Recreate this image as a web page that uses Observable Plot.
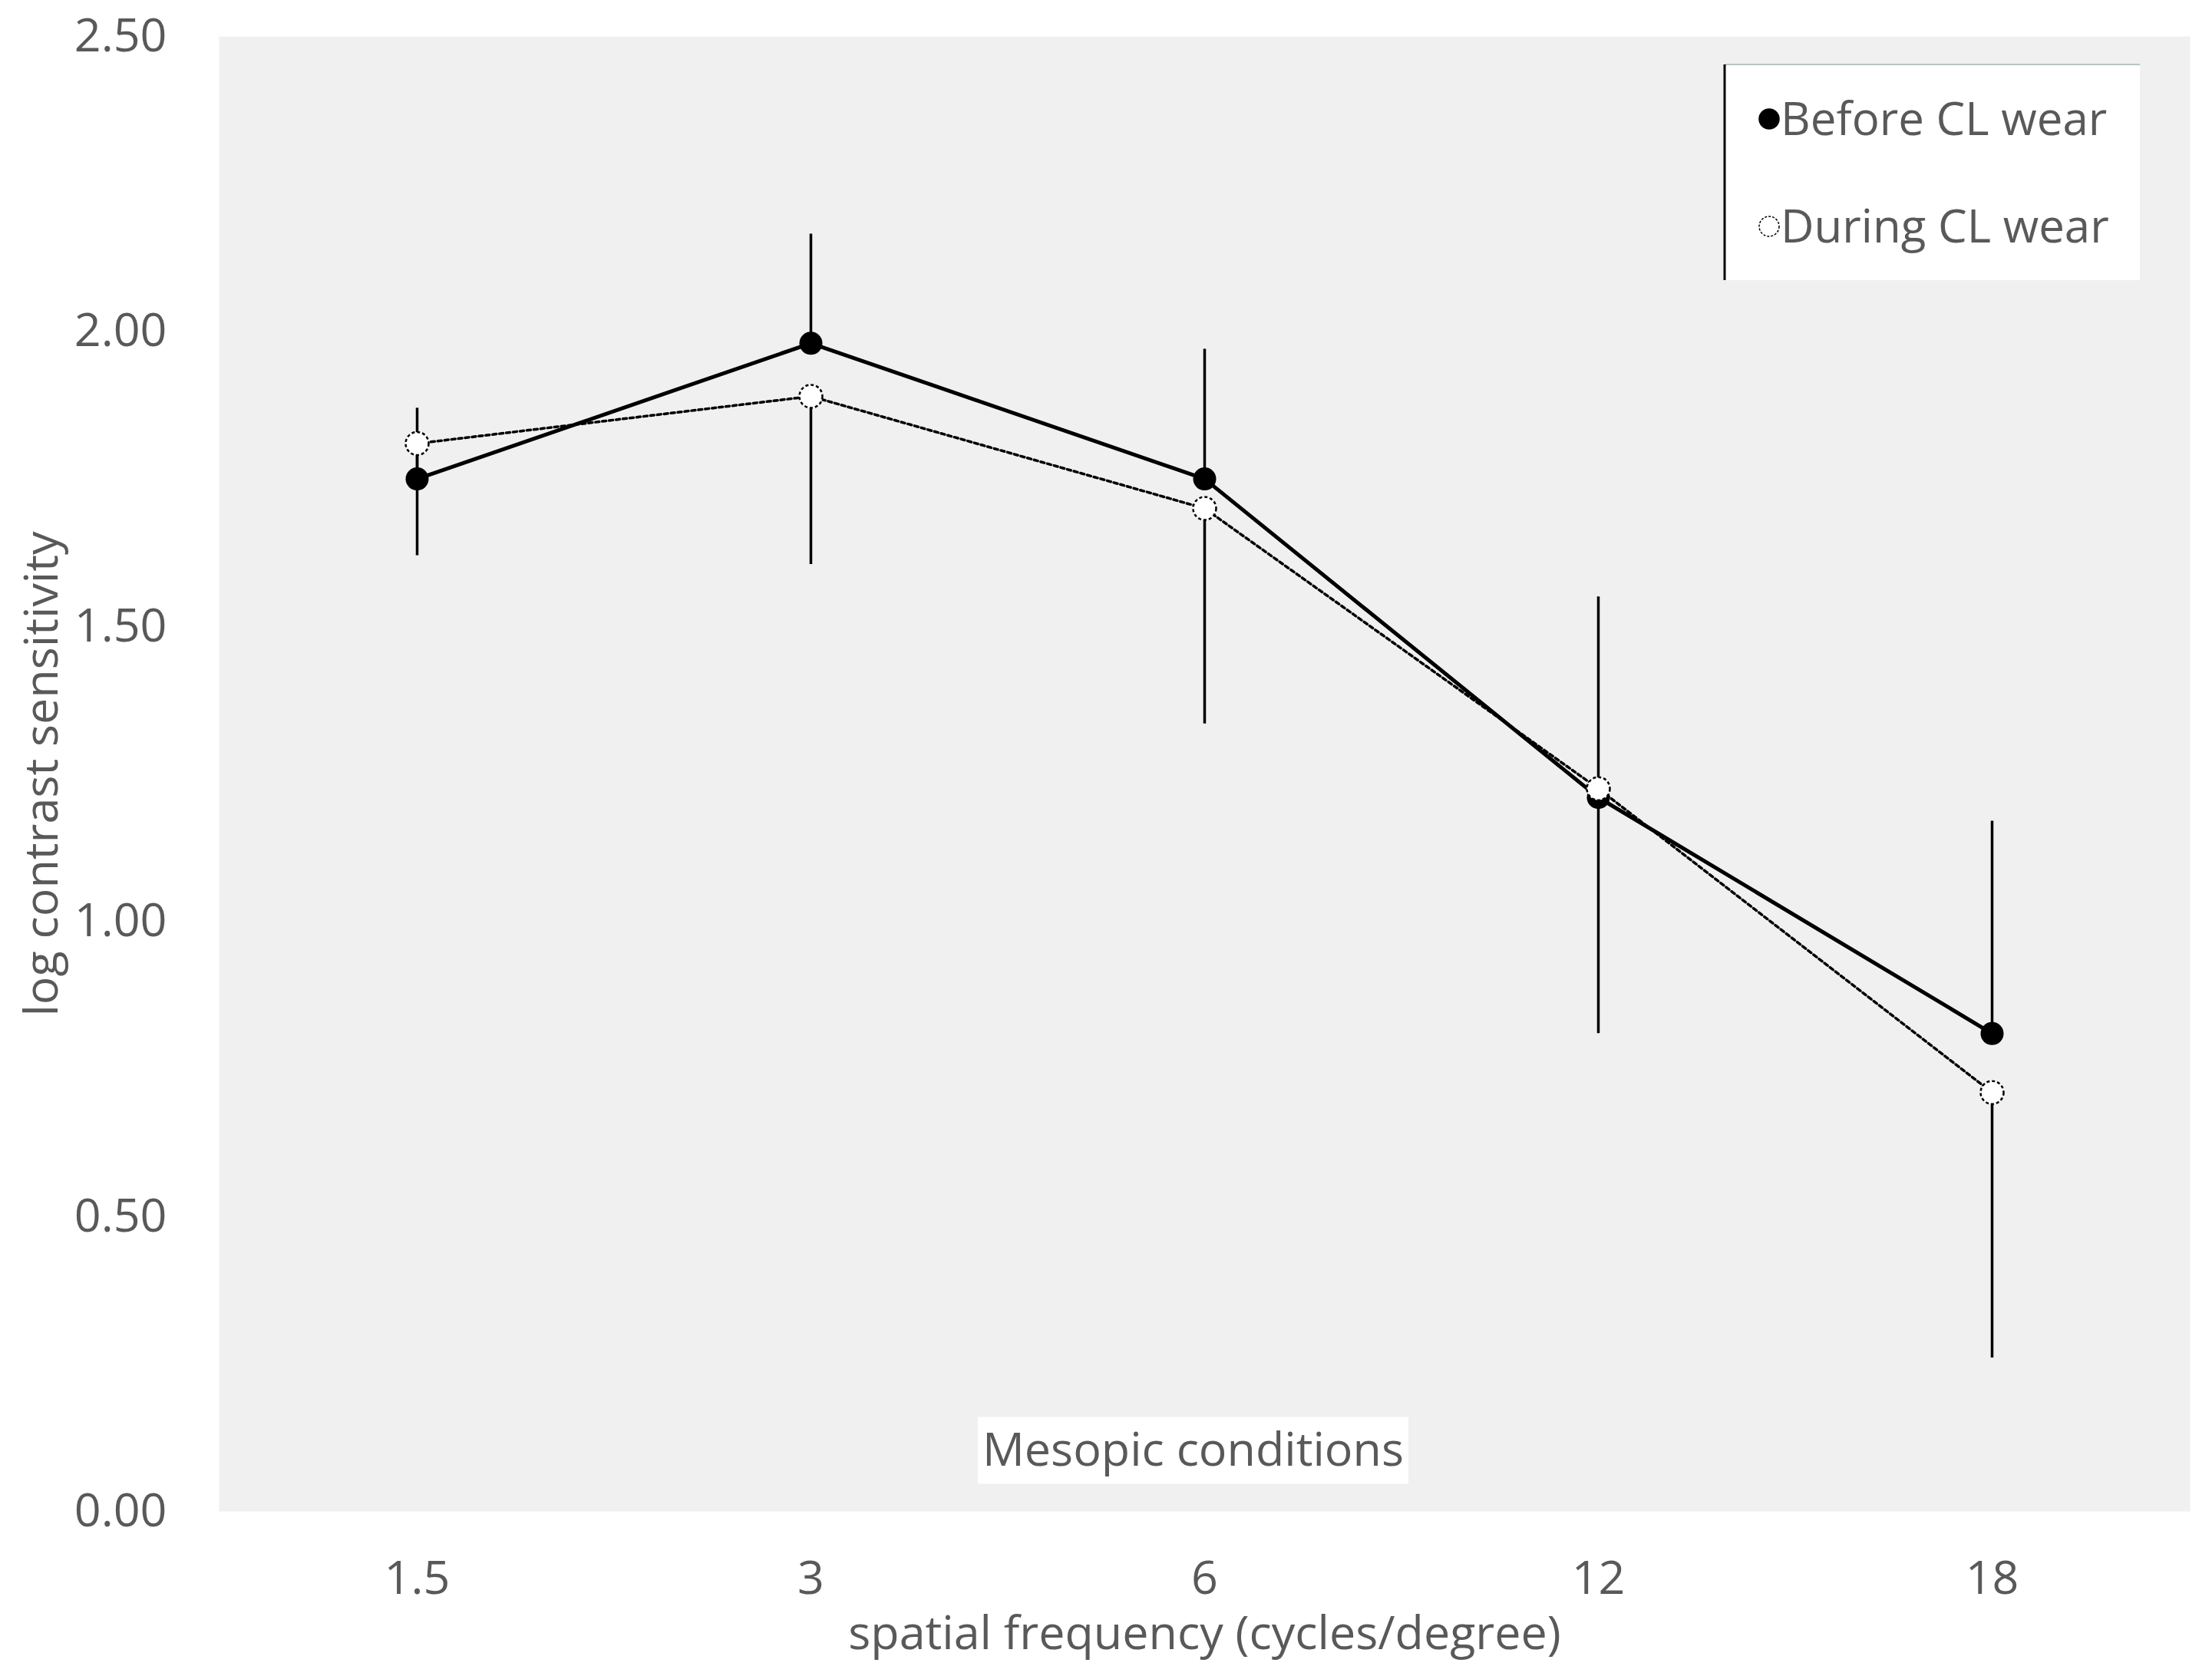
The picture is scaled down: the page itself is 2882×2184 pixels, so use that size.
<!DOCTYPE html>
<html><head><meta charset="utf-8">
<script src="https://cdn.jsdelivr.net/npm/d3@7"></script>
<script src="https://cdn.jsdelivr.net/npm/@observablehq/plot@0.6"></script>
<style>body{margin:0;background:#fff}</style>
</head><body><div id="chart"></div>
<script>
const frequencies = ["1.5", "3", "6", "12", "18"];
const beforeCL = [1.75, 1.98, 1.75, 1.21, 0.81];
const duringCL = [1.81, 1.89, 1.70, 1.225, 0.71];
const beforeSD = [0.12, 0.185, 0.22, 0.34, 0.36];
const duringSD = [0.19, 0.285, 0.365, 0.415, 0.45];
const yTicks = [0, 0.5, 1, 1.5, 2, 2.5];
const seriesNames = ["Before CL wear", "During CL wear"];
const annotation = "Mesopic conditions";
const xTitle = "spatial frequency (cycles/degree)";
const yTitle = "log contrast sensitivity";

const before = frequencies.map((f, i) => ({f, v: beforeCL[i], lo: beforeCL[i], hi: beforeCL[i] + beforeSD[i]}));
const during = frequencies.map((f, i) => ({f, v: duringCL[i], lo: duringCL[i] - duringSD[i], hi: duringCL[i]}));

const FONT = "'Open Sans', sans-serif";
const TXT = "#595959";
const FS = 61;
const plot = Plot.plot({
  width: 2882, height: 2184,
  marginLeft: 285, marginRight: 29, marginTop: 47, marginBottom: 215,
  style: {fontFamily: FONT, fontSize: FS + "px", color: TXT, background: "#fff", overflow: "visible"},
  x: {type: "point", domain: frequencies, padding: 0.5, tickSize: 0, tickPadding: 64, label: null},
  y: {domain: [0, 2.5], ticks: yTicks, tickFormat: d3.format(".2f"), tickSize: 0, tickPadding: 68, label: null},
  marks: [
    Plot.frame({fill: "#f0f0f0", stroke: null}),
    Plot.ruleX(before, {x: "f", y1: "lo", y2: "hi", stroke: "#000", strokeWidth: 3.5}),
    Plot.ruleX(during, {x: "f", y1: "lo", y2: "hi", stroke: "#000", strokeWidth: 3.5}),
    Plot.line(before, {x: "f", y: "v", stroke: "#000", strokeWidth: 5}),
    Plot.line(during, {x: "f", y: "v", stroke: "#000", strokeWidth: 3.5, strokeDasharray: "5,4"}),
    Plot.dot(before, {x: "f", y: "v", r: 15, fill: "#000", stroke: null}),
    Plot.dot(during, {x: "f", y: "v", r: 15, fill: "#fff", stroke: "#000", strokeWidth: 2.5, strokeDasharray: "4,3"}),
    Plot.text([xTitle], {text: d => d, frameAnchor: "bottom", textAnchor: "middle", dy: 179, fill: TXT}),
    Plot.text([yTitle], {text: d => d, frameAnchor: "left", textAnchor: "middle", dx: -230, rotate: -90, fill: TXT}),
    Plot.text([annotation], {text: d => d, frameAnchor: "bottom", textAnchor: "middle", dx: -15, dy: -60, fill: TXT})
  ]
});
document.getElementById("chart").appendChild(plot);

const svg = d3.select(plot);
// white box behind the annotation
svg.selectAll("text").filter(function() { return this.textContent === annotation; }).each(function() {
  const b = this.getBBox();
  d3.select(this.parentNode).insert("rect", () => this)
    .attr("transform", this.getAttribute("transform"))
    .attr("x", b.x - 6).attr("y", b.y + 2).attr("width", b.width + 12).attr("height", b.height + 4)
    .attr("fill", "#fff").attr("stroke", "none");
});

// legend
const lg = svg.append("g").attr("class", "legend");
lg.append("rect").attr("x", 2247).attr("y", 84).attr("width", 541).attr("height", 281).attr("fill", "#fff");
lg.append("line").attr("x1", 2247).attr("x2", 2788).attr("y1", 84).attr("y2", 84).attr("stroke", "#b8c4c0").attr("stroke-width", 2);
lg.append("line").attr("x1", 2247).attr("x2", 2247).attr("y1", 84).attr("y2", 365).attr("stroke", "#000").attr("stroke-width", 3);
const rows = [{y: 176, fill: "#000", dash: null}, {y: 316, fill: "#fff", dash: "3,2"}];
rows.forEach((r, i) => {
  lg.append("circle").attr("cx", 2305).attr("cy", r.y - 21).attr("r", 13)
    .attr("fill", r.fill).attr("stroke", "#000").attr("stroke-width", 1.5).attr("stroke-dasharray", r.dash);
  lg.append("text").attr("x", 2320).attr("y", r.y).attr("fill", TXT).attr("text-anchor", "start")
    .style("font-family", FONT).style("font-size", "60px").text(seriesNames[i]);
});
</script>
</body></html>
